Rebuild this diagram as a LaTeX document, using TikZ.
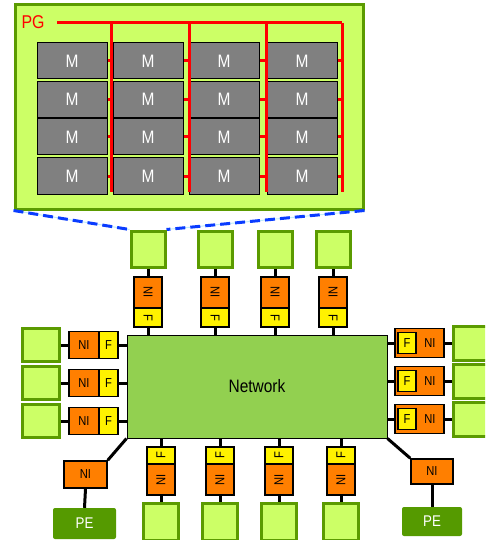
\documentclass[tikz,border=0pt]{standalone}
\usepackage{fontspec}
\setmainfont[FakeStretch=0.86]{Liberation Sans}
\usetikzlibrary{positioning}
\definecolor{tilegreen}{HTML}{CCFF66}
\definecolor{tileedge}{HTML}{5B9B00}
\definecolor{pegreen}{HTML}{559A00}
\definecolor{netgreen}{HTML}{92D050}
\definecolor{niorange}{HTML}{FF7F00}
\definecolor{memgray}{HTML}{808080}
\definecolor{linkblue}{HTML}{0A3CFF}

\begin{document}
\begin{tikzpicture}[
    x=1pt, y=-1pt,
    pgbox/.style={
        draw=tileedge,
        line width=3pt,
        fill=tilegreen,
        minimum width=348pt,
        minimum height=204pt,
        inner sep=0pt
    },
    mem/.style={
        draw=black,
        line width=1pt,
        fill=memgray,
        text=white,
        font=\fontsize{18}{18}\selectfont,
        minimum width=70pt,
        minimum height=36pt,
        inner sep=0pt
    },
    tile/.style={
        draw=tileedge,
        line width=3pt,
        fill=tilegreen,
        minimum width=34pt,
        minimum height=36pt,
        inner sep=0pt
    },
    ni/.style={
        draw=black,
        line width=1.5pt,
        fill=niorange,
        font=\fontsize{13}{13}\selectfont,
        inner sep=0pt
    },
    ff/.style={
        draw=black,
        line width=1.2pt,
        fill=yellow,
        font=\fontsize{13}{13}\selectfont,
        inner sep=0pt
    },
    net/.style={
        draw=black,
        line width=1pt,
        fill=netgreen,
        font=\fontsize{18}{18}\selectfont,
        minimum width=260pt,
        minimum height=103pt
    },
    pe/.style={
        fill=pegreen,
        rounded corners=2pt,
        text=white,
        font=\fontsize{15.5}{15.5}\selectfont,
        inner sep=0pt
    },
    bus/.style={draw=red, line width=3pt},
    conn/.style={draw=black, line width=3pt},
    zoomline/.style={draw=linkblue, line width=3pt, dash pattern=on 10pt off 5pt}
]
\clip (0,0) rectangle (485,540);

% power gated tile
\node[pgbox] (pg) at (189,107) {};
\node[text=red, font=\fontsize{18.5}{18.5}\selectfont] (pglbl) at (33,22) {PG};

\foreach \c/\x in {1/72,2/148,3/224,4/302}{
    \foreach \r/\y in {1/61,2/99.5,3/137,4/176}{
        \node[mem] (m-\r-\c) at (\x,\y) {M};
    }
}

\coordinate (bus0) at (57,23);
\coordinate (b1) at (111,23);
\coordinate (b2) at (189,23);
\coordinate (b3) at (266,23);
\coordinate (b4) at (342,23);
\draw[bus] (bus0) -- (b4);
\foreach \c in {1,...,4}{
    \draw[bus] (b\c) -- ++(0,169);
    \foreach \r in {1,...,4}{
        \draw[bus] (m-\r-\c.east) -- (m-\r-\c.east -| b\c);
    }
}

% network
\node[net] (net) at (257,386.5) {Network};

% top tiles
\foreach \i/\x in {1/148,2/215,3/275,4/333}{
    \node[tile] (st\i) at (\x,249) {};
    \node[ni, minimum width=28pt, minimum height=31pt] (nt\i) at (\x,292.5) {\rotatebox{-90}{NI}};
    \node[ff, minimum width=28pt, minimum height=19pt] (ft\i) at (\x,317.5) {\rotatebox{-90}{F}};
    \draw[conn] (st\i.south) -- (nt\i.north);
    \draw[conn] (ft\i.south) -- (ft\i.south |- net.north);
}

% zoom lines
\draw[cyan!25, line width=1pt] (pg.south west) -- (st1.north west);
\draw[cyan!25, line width=1pt] (pg.south east) -- (st1.north east);
\draw[zoomline] (pg.south west) -- (st1.north west);
\draw[zoomline] (pg.south east) -- (st1.north east);
\node[tile] at (st1) {};

% bottom tiles
\foreach \i/\x in {1/161,2/220,3/279,4/341}{
    \node[ff, minimum width=28pt, minimum height=17pt] (fb\i) at (\x,455.5) {\rotatebox{90}{F}};
    \node[ni, minimum width=28pt, minimum height=31pt] (nb\i) at (\x,479.5) {\rotatebox{90}{NI}};
    \node[tile, minimum width=35pt, minimum height=37pt] (sb\i) at (\x,521.5) {};
    \draw[conn] (fb\i.north |- net.south) -- (fb\i.north);
    \draw[conn] (nb\i.south) -- (sb\i.north);
}

% left tiles
\foreach \i/\y in {1/345,2/383,3/421}{
    \node[tile, minimum width=37pt, minimum height=33pt] (sl\i) at (40.5,\y) {};
    \node[ni, minimum width=30pt, minimum height=27pt] (nl\i) at (84,\y) {NI};
    \node[ff, minimum width=19pt, minimum height=27pt] (fl\i) at (108.5,\y) {F};
    \draw[conn] (sl\i.east) -- (nl\i.west);
    \draw[conn] (fl\i.east) -- (fl\i.east -| net.west);
}

% right tiles
\foreach \i/\y in {1/343,2/381,3/419}{
    \node[ni, minimum width=49pt, minimum height=29pt] (nr\i) at (419.5,\y) {};
    \node[ff, minimum width=18pt, minimum height=21pt] (fr\i) at (407,\y) {F};
    \node[font=\fontsize{13}{13}\selectfont] (tr\i) at (430,\y) {NI};
    \node[tile, minimum width=39pt, minimum height=34pt] (sr\i) at (472.5,\y) {};
    \draw[conn] (nr\i.east) -- (sr\i.west);
    \draw[conn] (nr\i.west -| net.east) -- (nr\i.west);
}

% processing elements
\node[ni, minimum width=43pt, minimum height=27pt] (nipl) at (85.5,474.5) {NI};
\node[pe, minimum width=63pt, minimum height=31pt] (pel) at (84.5,523.5) {PE};
\node[ni, minimum width=42pt, minimum height=25pt] (nipr) at (432,471.5) {NI};
\node[pe, minimum width=60pt, minimum height=29pt] (per) at (432,521.5) {PE};

\draw[conn] (net.south west) -- (nipl.north east);
\draw[conn] (nipl.south) -- (pel.north);
\draw[conn] (net.south east) -- (nipr.north west);
\draw[conn] (nipr.south) -- (per.north);

\end{tikzpicture}
\end{document}
